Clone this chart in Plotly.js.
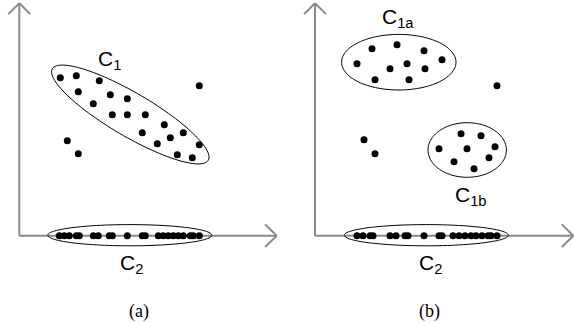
<!DOCTYPE html>
<html><head><meta charset="utf-8">
<script src="https://cdn.plot.ly/plotly-3.0.1.min.js"></script>
<style>html,body{margin:0;padding:0;background:#fff}#chart{width:574px;height:323px}</style>
</head><body><div id="chart"></div>
<script>
// ---- Panel (a) data ----
const aC1X = [4.1, 5.7, 8.0, 5.9, 9.1, 10.8, 7.4, 9.3, 10.8, 12.6, 14.5, 12.3, 15.1, 16.4, 13.8, 18.0, 15.8, 17.3];
const aC1Y = [15.8, 16.0, 15.5, 14.4, 14.1, 13.7, 13.2, 12.1, 12.1, 12.1, 11.1, 10.3, 9.8, 10.3, 9.2, 9.1, 8.1, 7.8];
const aOutX = [18.0, 4.8, 5.9];
const aOutY = [15.0, 9.5, 8.2];
const aC2X = [4.0, 4.5, 5.0, 5.7, 6.0, 7.4, 7.9, 9.0, 9.3, 10.8, 12.3, 12.6, 13.9, 14.4, 14.9, 15.4, 15.9, 16.4, 17.1, 17.4, 18.0];
const aC2Y = aC2X.map(() => 0);
// ---- Panel (b) data ----
const bC1aX = [5.7, 8.2, 10.9, 4.2, 7.5, 9.2, 11.0, 12.7, 6.0, 9.4];
const bC1aY = [18.7, 19.1, 18.5, 17.2, 16.7, 17.2, 16.7, 17.6, 15.6, 15.6];
const bC1bX = [14.6, 16.6, 12.4, 15.2, 18.0, 13.9, 17.4, 15.9];
const bC1bY = [10.2, 10.0, 8.7, 8.7, 8.9, 7.4, 7.8, 6.7];
const bOutX = [18.2, 4.9, 6.0];
const bOutY = [15.0, 9.6, 8.2];
const bC2X = [4.2, 4.8, 5.5, 5.8, 7.5, 8.1, 9.0, 9.3, 10.9, 12.4, 12.7, 13.8, 14.4, 15.0, 15.6, 16.1, 16.7, 17.3, 17.6, 18.2];
const bC2Y = bC2X.map(() => 0);
// ---- Labels ----
const labelsA = ['C<sub>1</sub>', 'C<sub>2</sub>', '(a)'];
const labelsB = ['C<sub>1a</sub>', 'C<sub>1b</sub>', 'C<sub>2</sub>', '(b)'];

// ---- Layout helpers (outlines, positions, styles) ----
const outlinesA = [
  {cx: 11.1, cy: 12.12, a: 9.04, b: 2.17, ang: -30.4},
  {cx: 11.05, cy: 0.05, a: 8.2, b: 1.06, ang: 0}
];
const outlinesB = [
  {cx: 8.38, cy: 17.35, a: 5.72, b: 2.78, ang: 0},
  {cx: 15.22, cy: 8.57, a: 3.92, b: 2.73, ang: 0},
  {cx: 11.13, cy: 0.05, a: 8.2, b: 1.06, ang: 0}
];
function ellipsePath(e) {
  const n = 120, t = e.ang * Math.PI / 180;
  let p = '';
  for (let i = 0; i <= n; i++) {
    const u = 2 * Math.PI * i / n;
    const x0 = e.a * Math.cos(u), y0 = e.b * Math.sin(u);
    const x = e.cx + x0 * Math.cos(t) - y0 * Math.sin(t);
    const y = e.cy + x0 * Math.sin(t) + y0 * Math.cos(t);
    p += (i === 0 ? 'M' : 'L') + x.toFixed(3) + ',' + y.toFixed(3);
  }
  return p + 'Z';
}
const axisCol = '#8a8a8a';
function axesShapes(xr, yr, yTop, xTip) {
  const s = {xref: xr, yref: yr, type: 'line', layer: 'below', line: {color: axisCol, width: 2}};
  return [
    Object.assign({}, s, {x0: 0, y0: 0, x1: 0, y1: yTop}),
    Object.assign({}, s, {x0: 0, y0: 0, x1: xTip, y1: 0}),
    Object.assign({}, s, {x0: 0, y0: yTop, x1: -1.1, y1: yTop - 1.08}),
    Object.assign({}, s, {x0: 0, y0: yTop, x1: 1.1, y1: yTop - 1.08}),
    Object.assign({}, s, {x0: xTip, y0: 0, x1: xTip - 1.15, y1: 1.13}),
    Object.assign({}, s, {x0: xTip, y0: 0, x1: xTip - 1.15, y1: -1.13})
  ];
}
const shapes = [].concat(
  axesShapes('x', 'y', 23.24, 25.74),
  axesShapes('x2', 'y2', 23.24, 25.83),
  outlinesA.map(e => ({type: 'path', xref: 'x', yref: 'y', path: ellipsePath(e), line: {color: '#000', width: 1}})),
  outlinesB.map(e => ({type: 'path', xref: 'x2', yref: 'y2', path: ellipsePath(e), line: {color: '#000', width: 1}}))
);

const mk = {color: '#000', size: 7};
function pts(x, y, xa, ya) {
  return {type: 'scatter', mode: 'markers', x: x, y: y, xaxis: xa, yaxis: ya, marker: mk, hoverinfo: 'skip', cliponaxis: false};
}
const data = [
  pts(aC1X, aC1Y, 'x', 'y'), pts(aOutX, aOutY, 'x', 'y'), pts(aC2X, aC2Y, 'x', 'y'),
  pts(bC1aX, bC1aY, 'x2', 'y2'), pts(bC1bX, bC1bY, 'x2', 'y2'), pts(bOutX, bOutY, 'x2', 'y2'), pts(bC2X, bC2Y, 'x2', 'y2')
];

function sansF() { return {family: '"Liberation Sans", Arial, sans-serif', size: 21, color: '#000000'}; }
function serifF() { return {family: '"Liberation Serif", "Times New Roman", serif', size: 18, color: '#000000'}; }
const annPosA = [[9.0, 17.6], [11.17, -2.85], [11.97, -7.55]];
const annPosB = [[8.3, 21.75], [15.6, 3.95], [11.55, -2.85], [11.4, -7.55]];
const annotations = [];
labelsA.forEach((t, i) => annotations.push({xref: 'x', yref: 'y', x: annPosA[i][0], y: annPosA[i][1], text: t, showarrow: false, font: i === 2 ? serifF() : sansF(), xanchor: 'center', yanchor: 'middle'}));
labelsB.forEach((t, i) => annotations.push({xref: 'x2', yref: 'y2', x: annPosB[i][0], y: annPosB[i][1], text: t, showarrow: false, font: i === 3 ? serifF() : sansF(), xanchor: 'center', yanchor: 'middle'}));

const hid = {visible: false, showgrid: false, zeroline: false, fixedrange: true};
const layout = {
  width: 574, height: 323, margin: {l: 0, r: 0, t: 0, b: 0},
  font: {family: '"Liberation Sans", Arial, sans-serif', size: 21, color: '#000000'},
  paper_bgcolor: '#fff', plot_bgcolor: 'rgba(0,0,0,0)', showlegend: false,
  xaxis: Object.assign({}, hid, {domain: [0, 0.5], range: [-1.93, 26.77], anchor: 'y'}),
  yaxis: Object.assign({}, hid, {domain: [0, 1], range: [-8.73, 23.57], anchor: 'x'}),
  xaxis2: Object.assign({}, hid, {domain: [0.5, 1], range: [-2.8, 25.9], anchor: 'y2'}),
  yaxis2: Object.assign({}, hid, {domain: [0, 1], range: [-8.73, 23.57], anchor: 'x2'}),
  shapes: shapes, annotations: annotations
};
Plotly.newPlot('chart', data, layout, {displayModeBar: false, staticPlot: true});
</script></body></html>
